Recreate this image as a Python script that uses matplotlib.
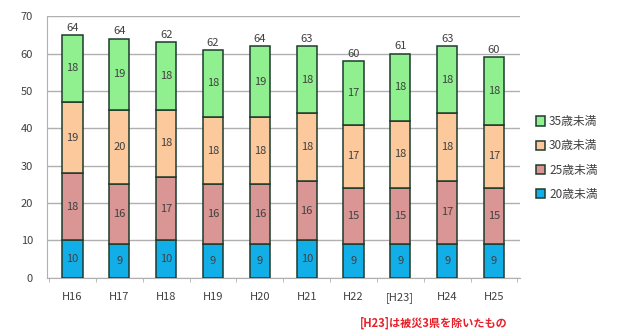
import matplotlib.pyplot as plt
import numpy as np

plt.rcParams['font.family'] = ['Noto Sans CJK JP', 'DejaVu Sans']

years = ['H16', 'H17', 'H18', 'H19', 'H20', 'H21', 'H22', '[H23]', 'H24', 'H25']
under20 = [10, 9, 10, 9, 9, 10, 9, 9, 9, 9]
under25 = [18, 16, 17, 16, 16, 16, 15, 15, 17, 15]
under30 = [19, 20, 18, 18, 18, 18, 17, 18, 18, 17]
under35 = [18, 19, 18, 18, 19, 18, 17, 18, 18, 18]
totals = [64, 64, 62, 62, 64, 63, 60, 61, 63, 60]

series = [
    ('20歳未満', under20, '#12aee8'),
    ('25歳未満', under25, '#d99694'),
    ('30歳未満', under30, '#fbc99c'),
    ('35歳未満', under35, '#90f090'),
]

fig = plt.figure(figsize=(6.24, 3.36), dpi=100)
ax = fig.add_axes([0.075, 0.173, 0.758, 0.779])

x = np.arange(len(years))
bottom = np.zeros(len(years))
handles = []
for name, vals, col in series:
    b = ax.bar(x, vals, 0.43, bottom=bottom, color=col, edgecolor='#1d3b2c',
               linewidth=1.1, label=name, zorder=3)
    for xi, v, bt in zip(x, vals, bottom):
        ax.text(xi, bt + v / 2, str(v), ha='center', va='center',
                fontsize=8, color='#404040', zorder=4)
    handles.append(b)
    bottom = bottom + np.array(vals)

for xi, top, t in zip(x, bottom, totals):
    ax.text(xi, top + 0.6, str(t), ha='center', va='bottom',
            fontsize=8, color='#404040', zorder=4)

ax.set_xlim(-0.55, 9.55)
ax.set_ylim(0, 70)
ax.set_yticks(range(0, 71, 10))
ax.yaxis.grid(True, color='#b0b0b0', linewidth=1.0, zorder=0)
ax.set_axisbelow(True)
ax.set_xticks(x)
ax.set_xticklabels(years)
ax.set_xticks(np.arange(-0.5, 10, 1), minor=True)
ax.tick_params(axis='x', which='major', length=0, labelsize=8,
               labelcolor='#404040', pad=10)
ax.tick_params(axis='x', which='minor', length=3, color='#b0b0b0')
ax.tick_params(axis='y', length=0, labelsize=8, labelcolor='#404040', pad=10)
for s in ['top', 'right']:
    ax.spines[s].set_visible(False)
ax.spines['left'].set_color('#b0b0b0')
ax.spines['bottom'].set_color('#b0b0b0')

leg = fig.legend(handles[::-1], [s[0] for s in series][::-1],
                 loc='center left', bbox_to_anchor=(0.842, 0.53),
                 frameon=False, fontsize=8.5, handlelength=0.8,
                 handleheight=0.8, handletextpad=0.3, labelspacing=0.95)
for t in leg.get_texts():
    t.set_color('#404040')

fig.text(0.577, 0.02, '[H23]は被災3県を除いたもの', color='#e8202a',
         fontsize=8, ha='left', va='bottom', fontweight='bold')

fig.savefig('out.png', dpi=100)
